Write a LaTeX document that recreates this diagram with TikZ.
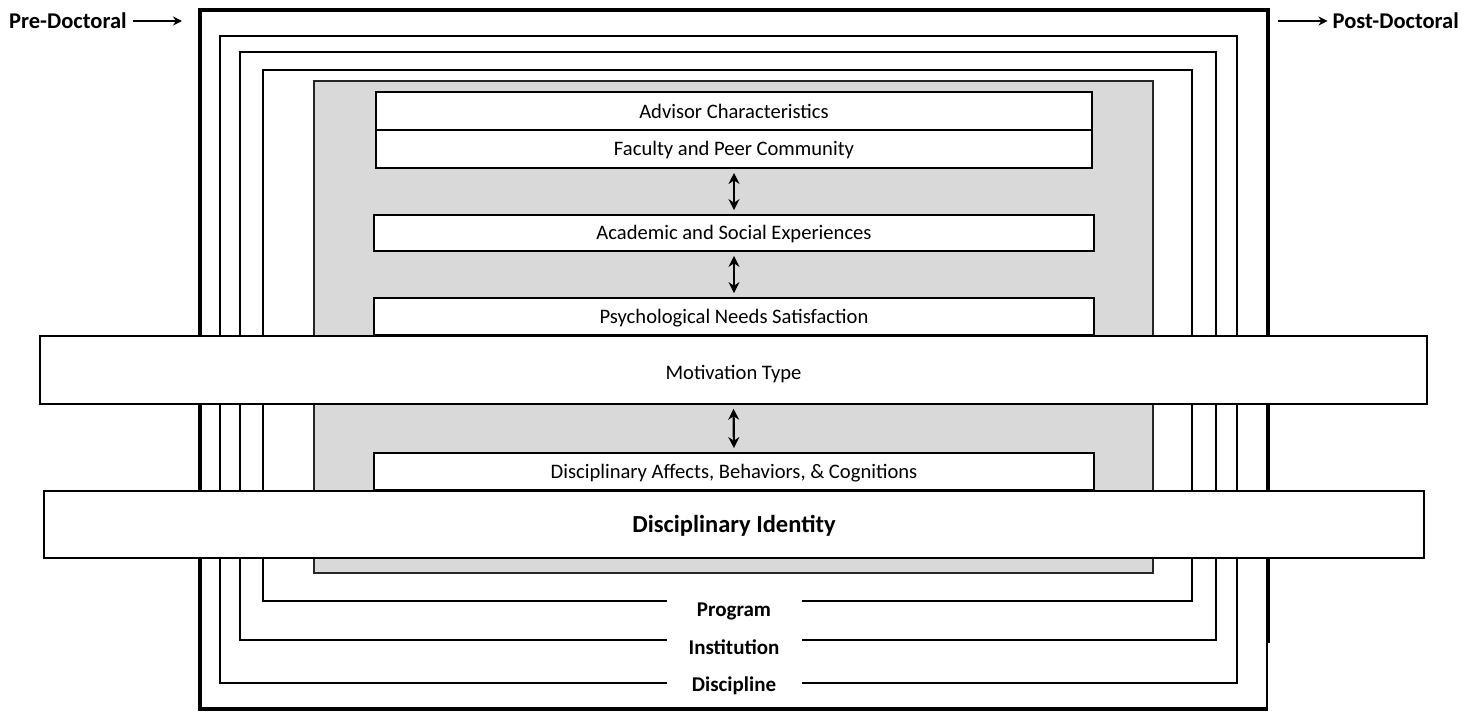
\documentclass[tikz,border=0pt]{standalone}
\usepackage{fontspec}
\setmainfont{Carlito}
\usetikzlibrary{arrows.meta}
\definecolor{shade}{RGB}{217,217,217}
\tikzset{
  outerframe/.style={line width=4.5pt},
  ring/.style={line width=2.4pt},
  core/.style={draw=black!85, line width=1.6pt, fill=shade},
  stage/.style={draw, fill=white, line width=1.8pt, inner sep=0pt,
    text height=13pt, text depth=0pt,
    font=\fontsize{20.6}{22}\selectfont},
  wide/.style={stage, line width=1.6pt},
  level/.style={fill=white, inner sep=0pt, minimum width=135pt, minimum height=24pt,
    text height=13.5pt, text depth=0pt,
    font=\bfseries\fontsize{21}{23}\selectfont},
  period/.style={inner sep=0pt, text height=14pt, text depth=0pt,
    font=\bfseries\fontsize{22.5}{24}\selectfont},
  twoway/.style={{Stealth[length=11pt,width=11pt]}-{Stealth[length=11pt,width=11pt]},
    line width=2.2pt, shorten >=4pt, shorten <=4pt},
  oneway/.style={-{Stealth[length=9pt,width=9pt]}, line width=1.5pt}
}
\begin{document}
\begin{tikzpicture}[x=1pt,y=-1pt]
\useasboundingbox (0,0) rectangle (1464,712);

% nested contexts: discipline, institution, program
\draw[outerframe] (1268,643) -- (1268,10) -- (200,10) -- (200,709) -- (1268,709);
\draw[line width=1.6pt] (1267,709) -- (1267,640);
\draw[ring] (220,36) rectangle (1237,683);
\draw[ring] (240,52) rectangle (1216,640);
\draw[ring] (263,70) rectangle (1192,601);

% shaded core
\draw[core] (314,81) rectangle (1153,573);

% level labels breaking the ring lines
\node[level] (program) at (734,610) {Program};
\node[level] (institution) at (734,647.5) {Institution};
\node[level] (discipline) at (734,684.5) {Discipline};

% stages of the model
\node[stage, minimum width=716pt, minimum height=38pt, text height=14pt] (advisor) at (734,111) {Advisor Characteristics};
\node[stage, minimum width=716pt, minimum height=38pt, line width=2pt] (faculty) at (734,149) {Faculty and Peer Community};
\node[stage, minimum width=720pt, minimum height=36pt] (academic) at (734,233) {Academic and Social Experiences};
\node[stage, minimum width=720pt, minimum height=37pt] (psych) at (734,316.5) {Psychological Needs Satisfaction};
\node[wide, minimum width=1387pt, minimum height=68pt, text height=19pt] (motivation) at (733.5,370) {Motivation Type};
\node[stage, minimum width=720pt, minimum height=37pt] (affects) at (734,471.5) {Disciplinary Affects, Behaviors, \& Cognitions};
\node[wide, minimum width=1380pt, minimum height=67pt, text height=16pt,
  font=\bfseries\fontsize{24.5}{26}\selectfont] (identity) at (734,524.5) {Disciplinary Identity};

% reciprocal links
\draw[twoway] (faculty.south) -- (academic.north);
\draw[twoway] (academic.south) -- (psych.north);
\draw[twoway] (motivation.south) -- (affects.north);

% time axis
\node[period, anchor=west] (pre) at (9,21) {Pre-Doctoral};
\coordinate (preend) at (182,21);
\draw[oneway] ([xshift=6pt]pre.east) -- (preend);
\node[period, anchor=east] (post) at (1459,21) {Post-Doctoral};
\coordinate (poststart) at (1278,21);
\draw[oneway] (poststart) -- ([xshift=-5pt]post.west);
\end{tikzpicture}
\end{document}
